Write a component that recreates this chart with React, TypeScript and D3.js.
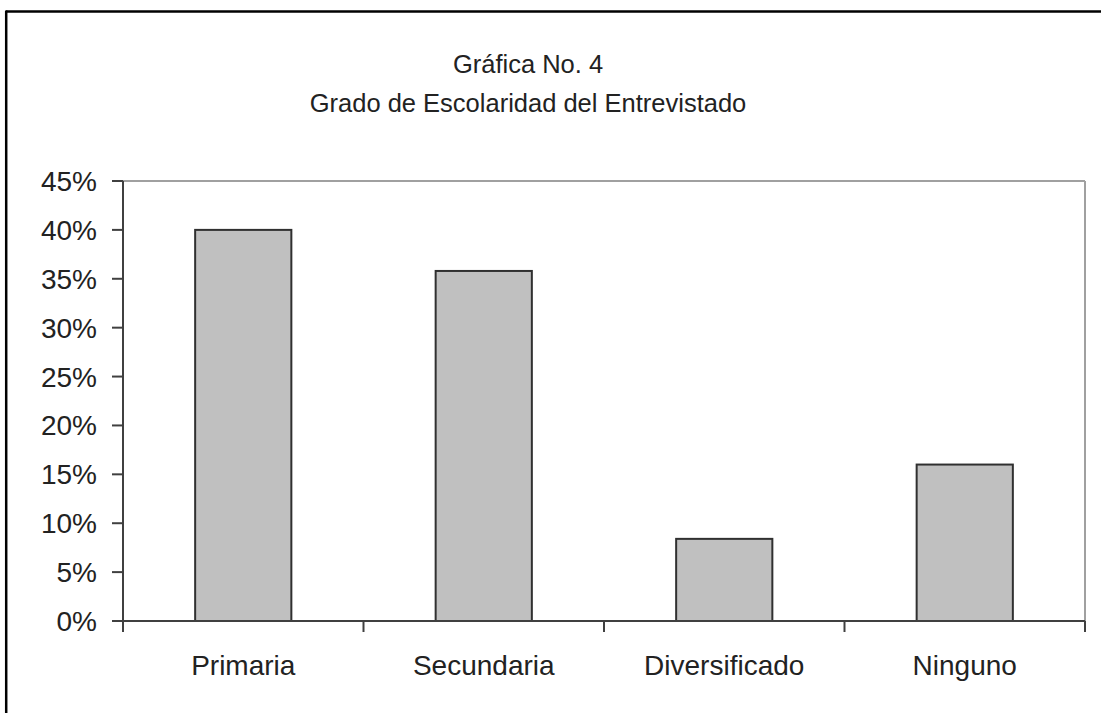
import React from "react";
import * as d3 from "d3";

const categories = ["Primaria", "Secundaria", "Diversificado", "Ninguno"];
const values = [40, 35.8, 8.4, 16];
const yTicks = [0, 5, 10, 15, 20, 25, 30, 35, 40, 45];
const titleLines = ["Gráfica No. 4", "Grado de Escolaridad del Entrevistado"];

const W = 1101;
const H = 713;
const plot = { left: 123, right: 1085, top: 181, bottom: 621 };
const FONT = "'Liberation Sans', Arial, sans-serif";

export default function App() {
  const x = d3
    .scaleBand<string>()
    .domain(categories)
    .range([plot.left, plot.right])
    .paddingInner(0.6)
    .paddingOuter(0.3);
  const xb = d3.scaleBand<string>().domain(categories).range([plot.left, plot.right]);
  const y = d3.scaleLinear().domain([0, 45]).range([plot.bottom, plot.top]);
  const axisColor = "#404040";
  const boundaries = [...categories.map((c) => xb(c) as number), plot.right];

  return (
    <svg
      width={W}
      height={H}
      style={{ position: "absolute", left: 0, top: 0, background: "#fff" }}
    >
      <rect x={0} y={0} width={W} height={H} fill="#fff" />
      {/* outer frame */}
      <line x1={6} x2={W + 5} y1={11.5} y2={11.5} stroke="#000" strokeWidth={2.5} />
      <line x1={6.2} x2={6.2} y1={10.5} y2={H + 5} stroke="#000" strokeWidth={2.5} />

      {/* titles */}
      {titleLines.map((t, i) => (
        <text
          key={t}
          x={528}
          y={73 + i * 39}
          textAnchor="middle"
          fontFamily={FONT}
          fontSize={25.5}
          fill="#222"
        >
          {t}
        </text>
      ))}

      {/* plot border top and right */}
      <line x1={plot.left} x2={plot.right} y1={plot.top} y2={plot.top} stroke="#a0a0a0" strokeWidth={2} />
      <line x1={plot.right} x2={plot.right} y1={plot.top} y2={plot.bottom} stroke="#a0a0a0" strokeWidth={2} />

      {/* bars */}
      {categories.map((c, i) => (
        <rect
          key={c}
          x={x(c)}
          y={y(values[i])}
          width={x.bandwidth()}
          height={y(0) - y(values[i])}
          fill="#c0c0c0"
          stroke="#303030"
          strokeWidth={2}
        />
      ))}

      {/* y axis */}
      <line x1={plot.left} x2={plot.left} y1={plot.top} y2={plot.bottom + 11} stroke={axisColor} strokeWidth={2} />
      {yTicks.map((t) => (
        <g key={t}>
          <line x1={plot.left - 11} x2={plot.left} y1={y(t)} y2={y(t)} stroke={axisColor} strokeWidth={2} />
          <text
            x={97}
            y={y(t) + 10}
            textAnchor="end"
            fontFamily={FONT}
            fontSize={28}
            fill="#222"
          >
            {t}%
          </text>
        </g>
      ))}

      {/* x axis */}
      <line x1={plot.left} x2={plot.right} y1={plot.bottom} y2={plot.bottom} stroke={axisColor} strokeWidth={2} />
      {boundaries.map((b, i) => (
        <line key={i} x1={b} x2={b} y1={plot.bottom} y2={plot.bottom + 11} stroke={axisColor} strokeWidth={2} />
      ))}
      {categories.map((c) => (
        <text
          key={c}
          x={(xb(c) as number) + xb.bandwidth() / 2}
          y={675}
          textAnchor="middle"
          fontFamily={FONT}
          fontSize={28}
          fill="#222"
        >
          {c}
        </text>
      ))}
    </svg>
  );
}
